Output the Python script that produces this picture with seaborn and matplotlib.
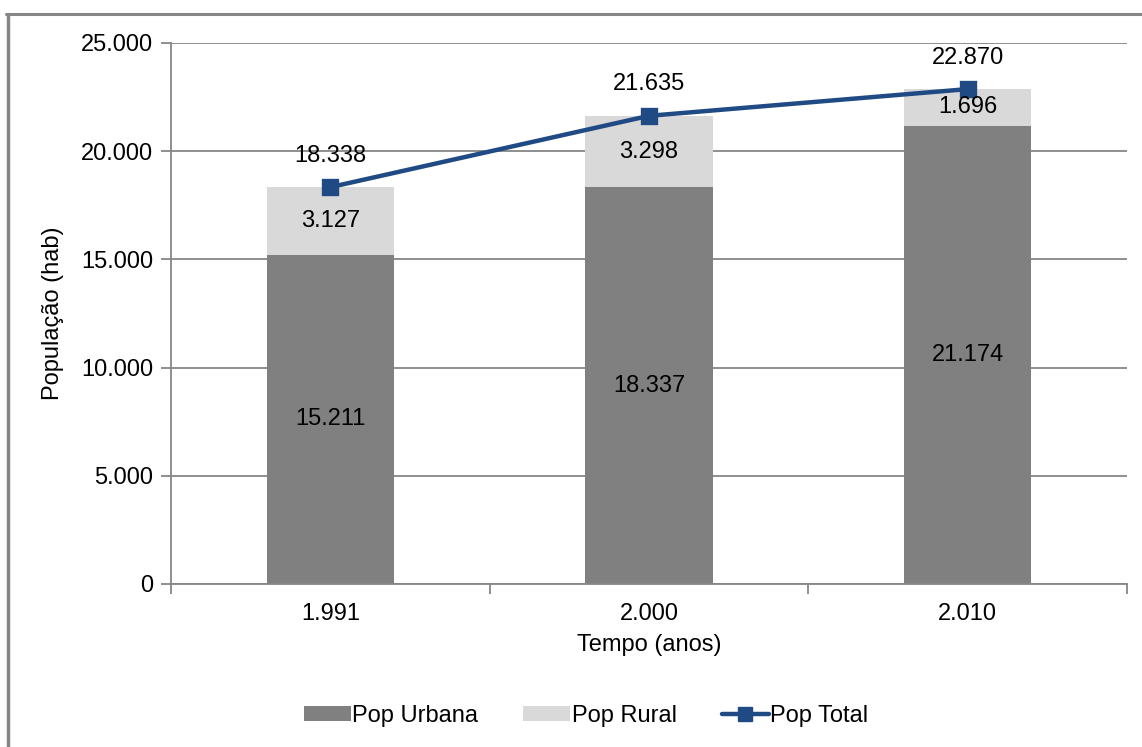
import matplotlib
matplotlib.use('Agg')
import matplotlib.pyplot as plt
from matplotlib.lines import Line2D
from matplotlib.patches import Patch
from matplotlib.ticker import FuncFormatter
import seaborn as sns
import pandas as pd

anos = ['1.991', '2.000', '2.010']
pop_urbana = [15211, 18337, 21174]
pop_rural = [3127, 3298, 1696]
pop_total = [18338, 21635, 22870]

cor_urbana = '#808080'
cor_rural = '#d9d9d9'
cor_total = '#1f4a84'
cor_eixo = '#868686'


def fmt(v):
    return f'{int(v):,}'.replace(',', '.')


sns.set_theme(style='white')
plt.rcParams['font.family'] = ['Liberation Sans', 'DejaVu Sans']
plt.rcParams['text.color'] = 'black'
plt.rcParams['axes.labelcolor'] = 'black'
plt.rcParams['xtick.color'] = 'black'
plt.rcParams['ytick.color'] = 'black'

df = pd.DataFrame({'ano': anos, 'urbana': pop_urbana, 'rural': pop_rural, 'total': pop_total})
df['topo'] = df['urbana'] + df['rural']

fig = plt.figure(figsize=(11.42, 7.47), dpi=100)
ax = fig.add_axes([171 / 1142, 1 - 584 / 747, (1127 - 171) / 1142, (584 - 43) / 747])

# stacked bars: full height in light gray, urban on top of it in dark gray
sns.barplot(data=df, x='ano', y='topo', color=cor_rural, saturation=1, width=0.4, ax=ax,
            linewidth=0, zorder=2)
sns.barplot(data=df, x='ano', y='urbana', color=cor_urbana, saturation=1, width=0.4, ax=ax,
            linewidth=0, zorder=2)
sns.pointplot(data=df, x='ano', y='total', color=cor_total, markers='s', markersize=10,
              linewidth=3.2, ax=ax, zorder=4)

for i, row in df.iterrows():
    ax.text(i, row['urbana'] / 2, fmt(row['urbana']), ha='center', va='center', fontsize=17, zorder=5)
    ax.text(i, row['urbana'] + row['rural'] / 2, fmt(row['rural']), ha='center', va='center',
            fontsize=17, zorder=5)
    ax.text(i, row['total'] + 1450, fmt(row['total']), ha='center', va='center', fontsize=17, zorder=5)

ax.set_ylim(0, 25000)
ax.set_xlim(-0.5, 2.5)
ax.set_yticks(range(0, 25001, 5000))
ax.yaxis.set_major_formatter(FuncFormatter(lambda v, p: fmt(v)))
ax.yaxis.grid(True, color=cor_eixo, linewidth=1.3, zorder=0)
ax.set_axisbelow(True)

ax.set_xticks([0, 1, 2])
ax.set_xticklabels(anos)
ax.set_xticks([-0.5, 0.5, 1.5, 2.5], minor=True)
ax.tick_params(axis='x', which='major', length=0, pad=14, labelsize=17)
ax.tick_params(axis='x', which='minor', length=7, width=1.3, color=cor_eixo, direction='out', bottom=True)
ax.tick_params(axis='y', which='major', length=7, width=1.3, color=cor_eixo, direction='out', left=True,
               labelsize=17, pad=6)

for s in ['top', 'right']:
    ax.spines[s].set_visible(False)
for s in ['left', 'bottom']:
    ax.spines[s].set_color(cor_eixo)
    ax.spines[s].set_linewidth(1.3)

ax.set_xlabel('Tempo (anos)', fontsize=17, labelpad=6)
ax.set_ylabel('População (hab)', fontsize=17, labelpad=12)

handles = [
    Patch(facecolor=cor_urbana, edgecolor='none', label='Pop Urbana'),
    Patch(facecolor=cor_rural, edgecolor='none', label='Pop Rural'),
    Line2D([], [], color=cor_total, linewidth=3.2, marker='s', markersize=10, label='Pop Total'),
]
fig.legend(handles=handles, loc='center', bbox_to_anchor=(586 / 1142, 1 - 716 / 747), ncol=3,
           frameon=False, fontsize=17, handlelength=2.0, handleheight=0.6, handletextpad=0.05,
           columnspacing=1.9)

# outer chart border (left and top edges visible)
fig.add_artist(Line2D([7.5 / 1142, 7.5 / 1142], [0, 1 - 14 / 747], transform=fig.transFigure,
                      color=cor_eixo, linewidth=2.5))
fig.add_artist(Line2D([6.3 / 1142, 1], [1 - 14 / 747, 1 - 14 / 747], transform=fig.transFigure,
                      color=cor_eixo, linewidth=2.2))

fig.savefig('out.png', dpi=100)
